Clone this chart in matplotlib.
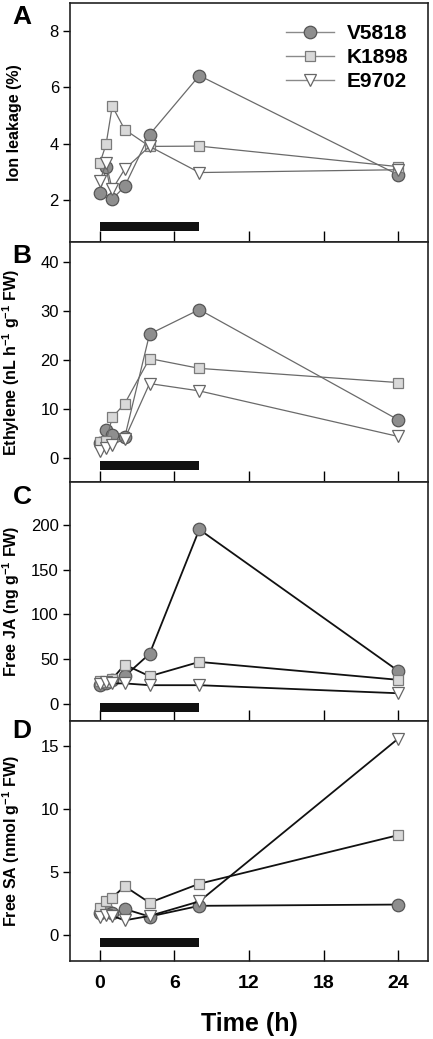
import matplotlib
matplotlib.use("Agg")
import matplotlib.pyplot as plt

plt.rcParams['font.family'] = ['Liberation Sans', 'DejaVu Sans']
plt.rcParams['mathtext.fontset'] = 'custom'
plt.rcParams['mathtext.rm'] = 'Liberation Sans'
plt.rcParams['mathtext.bf'] = 'Liberation Sans:bold'

# ---- data ----
time_h = [0, 0.5, 1, 2, 4, 8, 24]
genotypes = ['V5818', 'K1898', 'E9702']

ion_V5818 = [2.24, 3.15, 2.02, 2.48, 4.32, 6.42, 2.89]
ion_K1898 = [3.30, 3.97, 5.33, 4.50, 3.90, 3.91, 3.18]
ion_E9702 = [2.66, 3.30, 2.37, 3.09, 3.90, 2.97, 3.07]

eth_V5818 = [3.0, 5.6, 4.5, 4.1, 25.2, 30.2, 7.7]
eth_K1898 = [3.2, 3.3, 8.2, 11.0, 20.2, 18.2, 15.3]
eth_E9702 = [1.3, 2.0, 2.6, 3.8, 15.1, 13.6, 4.3]

ja_V5818 = [21, 24, 27, 31, 56, 195, 37]
ja_K1898 = [26, 25, 28, 44, 31, 47, 27]
ja_E9702 = [22, 25, 23, 23, 21, 21, 12]

sa_V5818 = [1.8, 2.1, 1.8, 2.1, 1.5, 2.35, 2.45]
sa_K1898 = [2.2, 2.75, 3.0, 3.9, 2.6, 4.1, 7.95]
sa_E9702 = [1.45, 1.65, 1.55, 1.2, 1.55, 2.7, 15.6]

treat_start, treat_end = 0, 8

panel_letters = ['A', 'B', 'C', 'D']
ylabels = ['Ion leakage (%)',
           r'Ethylene (nL h$^{\mathbf{-1}}$ g$^{\mathbf{-1}}$ FW)',
           r'Free JA (ng g$^{\mathbf{-1}}$ FW)',
           r'Free SA (nmol g$^{\mathbf{-1}}$ FW)']
ylims = [(0.5, 9.0), (-5, 44), (-19, 248), (-2, 17)]
yticks = [[2, 4, 6, 8], [0, 10, 20, 30, 40], [0, 50, 100, 150, 200], [0, 5, 10, 15]]
bar_y = [(0.88, 0.32), (-2.55, 1.84), (-8.9, 10), (-0.93, 0.71)]
xticks = [0, 6, 12, 18, 24]

series = [
    [ion_V5818, ion_K1898, ion_E9702],
    [eth_V5818, eth_K1898, eth_E9702],
    [ja_V5818, ja_K1898, ja_E9702],
    [sa_V5818, sa_K1898, sa_E9702],
]

marker_styles = [
    dict(marker='o', ms=9.0, mfc='#8e8e8e', mec='#555555'),
    dict(marker='s', ms=7.6, mfc='#d9d9d9', mec='#7a7a7a'),
    dict(marker='v', ms=9.0, mfc='white', mec='#666666'),
]
line_styles = [dict(color='#6a6a6a', lw=0.9), dict(color='#6a6a6a', lw=0.9),
               dict(color='#111111', lw=1.3), dict(color='#111111', lw=1.3)]

W, H = 433, 1039
fig = plt.figure(figsize=(W / 100, H / 100), dpi=100)

left = 70 / W
width = (428 - 70) / W
edges = [3, 242, 482, 721, 960.7]
letter_y = [17, 256, 497, 731]

for i in range(4):
    top = 1 - edges[i] / H
    bot = 1 - edges[i + 1] / H
    ax = fig.add_axes([left, bot, width, top - bot])
    for j, (vals, name) in enumerate(zip(series[i], genotypes)):
        ax.plot(time_h, vals, label=name, mew=0.9, zorder=3 + j,
                **line_styles[i], **marker_styles[j])
    y0, h = bar_y[i]
    ax.broken_barh([(treat_start, treat_end - treat_start)], (y0, h),
                   facecolors='#111111', zorder=2)
    ax.set_xlim(-2.4, 26.4)
    ax.set_ylim(*ylims[i])
    ax.set_yticks(yticks[i])
    ax.set_xticks(xticks)
    ax.tick_params(axis='y', direction='out', length=5, width=1.0,
                   labelsize=12, pad=3)
    ax.tick_params(axis='x', direction='in', length=8, width=1.0,
                   labelsize=14, pad=10)
    if i < 3:
        ax.tick_params(axis='x', labelbottom=False)
    else:
        for lab in ax.get_xticklabels():
            lab.set_fontweight('bold')
        ax.set_xlabel('Time (h)', fontsize=18, fontweight='bold', labelpad=15)
    for sp in ax.spines.values():
        sp.set_linewidth(1.2)
        sp.set_color('#222222')
    ax.set_ylabel(ylabels[i], fontsize=11.5, fontweight='bold')
    ax.yaxis.set_label_coords(-0.133, 0.5)
    fig.text(22 / W, 1 - letter_y[i] / H, panel_letters[i], fontsize=19,
             fontweight='bold', ha='center', va='center')
    if i == 0:
        leg_handles = []
        for j in range(3):
            hnd, = ax.plot([], [], color='#8a8a8a', lw=1.0, mew=0.9,
                           **marker_styles[j])
            leg_handles.append(hnd)
        ax.legend(leg_handles, genotypes, loc='upper right', frameon=False,
                  prop=dict(size=15, weight='bold'), handlelength=2.3,
                  labelspacing=0.25, handletextpad=0.6, borderpad=0,
                  bbox_to_anchor=(0.945, 0.912), borderaxespad=0)

fig.savefig('out.png', dpi=100)
